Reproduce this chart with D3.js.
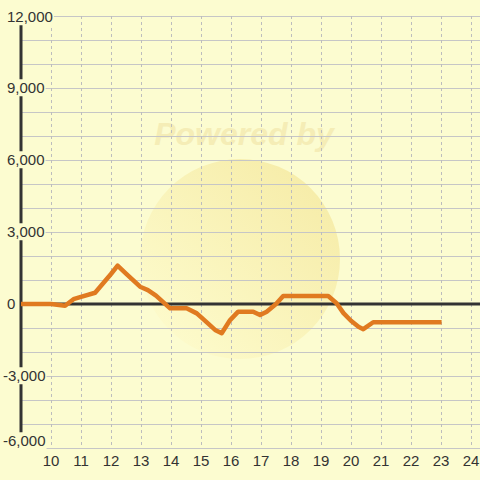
<!DOCTYPE html>
<html><head><meta charset="utf-8">
<script src="https://cdn.jsdelivr.net/npm/d3@7"></script>
<style>body{margin:0;background:#fcfcd0;}svg{display:block;}</style>
</head><body>
<svg id="c" width="480" height="480"></svg>
<script>
const times  = [9, 9.5, 10, 10.47, 10.75, 11, 11.47, 12, 12.22, 12.5, 12.97, 13.23, 13.5, 13.97, 14.52, 14.86, 15, 15.25, 15.47, 15.69, 15.97, 16.24, 16.74, 16.97, 17.19, 17.5, 17.74, 18, 18.5, 19, 19.24, 19.52, 19.75, 20, 20.25, 20.41, 20.74, 21, 22, 23.02];
const values = [0, 0, 0, -70, 200, 300, 470, 1250, 1600, 1270, 720, 580, 350, -180, -180, -390, -550, -830, -1080, -1220, -670, -320, -320, -460, -320, 0, 330, 330, 330, 330, 330, 30, -380, -700, -950, -1050, -760, -760, -760, -760];
const xTicks = [10, 11, 12, 13, 14, 15, 16, 17, 18, 19, 20, 21, 22, 23, 24];
const yTicks = [12000, 9000, 6000, 3000, 0, -3000, -6000];
const yGrid = d3.range(-6000, 12001, 1000);

const bg = "#fcfcd0";
const svg = d3.select("#c");
const x = d3.scaleLinear().domain([9, 24.3]).range([21, 480]);
const y = d3.scaleLinear().domain([-6000, 12000]).range([448, 16]);

svg.append("rect").attr("width", 480).attr("height", 480).attr("fill", bg);

// watermark
const defs = svg.append("defs");
const g1 = defs.append("linearGradient").attr("id", "wm").attr("x1", "0.1").attr("y1", "0.9").attr("x2", "0.9").attr("y2", "0.1");
g1.append("stop").attr("offset", "0").attr("stop-color", "#fdfbcc");
g1.append("stop").attr("offset", "1").attr("stop-color", "#f6eca8");
svg.append("circle").attr("cx", 240).attr("cy", 259).attr("r", 100).attr("fill", "url(#wm)");
svg.append("text").attr("x", 244).attr("y", 145).attr("text-anchor", "middle")
  .attr("font-family", "Liberation Sans, Arial, sans-serif").attr("font-weight", "bold").attr("font-style", "italic")
  .attr("font-size", 32).attr("fill", "#f5edb6").text("Powered by");

// horizontal grid
svg.append("g").selectAll("line").data(yGrid).join("line")
  .attr("x1", 21).attr("x2", 480).attr("y1", d => y(d) + 0.5).attr("y2", d => y(d) + 0.5)
  .attr("stroke", "#c6c6c6").attr("stroke-width", 1.2);

// vertical dashed grid
svg.append("g").selectAll("line").data(xTicks).join("line")
  .attr("x1", d => x(d) + 0.5).attr("x2", d => x(d) + 0.5).attr("y1", 16).attr("y2", 448)
  .attr("stroke", "#bdbdbd").attr("stroke-width", 1).attr("stroke-dasharray", "3,3");

// axes
svg.append("line").attr("x1", 21).attr("x2", 480).attr("y1", y(0)).attr("y2", y(0))
  .attr("stroke", "#333").attr("stroke-width", 3);
svg.append("line").attr("x1", x(9)).attr("x2", x(9)).attr("y1", 16).attr("y2", 448)
  .attr("stroke", "#333").attr("stroke-width", 3);

// y labels with background
const fmt = d3.format(",");
const yl = svg.append("g").attr("font-family", "Liberation Sans, Arial, sans-serif").attr("font-size", 15).attr("fill", "#333");
yTicks.forEach(v => {
  const cy = v === -6000 ? 441 : (v === 12000 ? 17 : y(v));
  const t = yl.append("text").attr("x", v < 0 ? 3 : 7).attr("y", cy).attr("dy", "0.35em").text(fmt(v).replace("−", "-"));
  const bb = t.node().getBBox();
  yl.insert("rect", "text").attr("x", bb.x - 1).attr("y", bb.y).attr("width", bb.width + 2).attr("height", bb.height).attr("fill", bg);
});

// x labels
svg.append("g").selectAll("text").data(xTicks).join("text")
  .attr("x", d => x(d)).attr("y", 466).attr("text-anchor", "middle")
  .attr("font-family", "Liberation Sans, Arial, sans-serif").attr("font-size", 15).attr("fill", "#333")
  .text(d => d);

// series line
const data = times.map((t, i) => [t, values[i]]);
svg.append("path").datum(data)
  .attr("d", d3.line().x(d => x(d[0])).y(d => y(d[1])))
  .attr("fill", "none").attr("stroke", "#e07a20").attr("stroke-width", 4.5)
  .attr("stroke-linejoin", "round").attr("stroke-linecap", "butt");
</script>
</body></html>
